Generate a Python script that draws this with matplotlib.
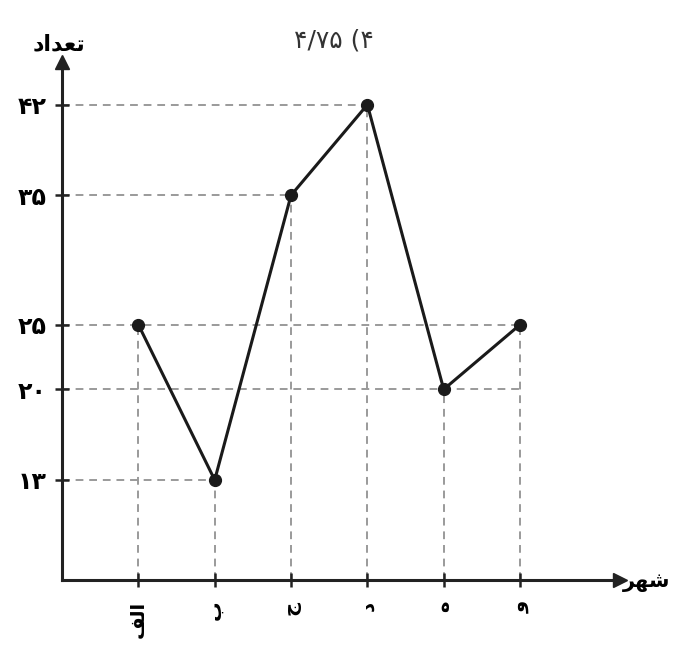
import matplotlib.pyplot as plt

# data: cities (alef..vav) and counts
# Persian text is written in visual order with presentation forms,
# since matplotlib does no arabic shaping
cities = ['\uFED2\uFEDF\uFE8D', '\uFE8F', '\uFE9D', '\uFEA9', '\uFEE9', '\uFEED']
counts = [25, 13, 35, 42, 20, 25]
yticks = [13, 20, 25, 35, 42]
ytick_labels = ['۱۳', '۲۰', '۲۵', '۳۵', '۴۲']
# how far right each horizontal guide goes (index of city)
hline_end = [1, 5, 5, 2, 3]

title = '۴/۷۵ (۴'
ylabel = '\uFEA9\uFE8D\uFEAA\uFECC\uFE97'   # tedad
xlabel = '\uFEAE\uFEEC\uFEB7'               # shahr

xs = list(range(1, len(cities) + 1))

fig = plt.figure(figsize=(6.75, 6.47), dpi=100)
ax = fig.add_axes([0.0919, 0.1036, 0.8267, 0.8006])
ax.set_xlim(0, 7.31)
ax.set_ylim(5.27, 45.3)

grey = '#9a9a9a'
for y, e in zip(yticks, hline_end):
    ax.plot([0, xs[e]], [y, y], color=grey, lw=1.4, ls=(0, (4, 3)), zorder=1)
for x, y in zip(xs, counts):
    ax.plot([x, x], [5.27, y], color=grey, lw=1.4, ls=(0, (4, 3)), zorder=1)

ax.plot(xs, counts, color='#1a1a1a', lw=2.2, marker='o', ms=8.5, zorder=3)

for s in ['top', 'right']:
    ax.spines[s].set_visible(False)
for s in ['left', 'bottom']:
    ax.spines[s].set_linewidth(2.2)
    ax.spines[s].set_color('#222222')

# arrow heads
ax.plot(1, 0, '>', color='#222222', ms=10, transform=ax.transAxes, clip_on=False)
ax.plot(0, 1, '^', color='#222222', ms=10, transform=ax.transAxes, clip_on=False)

ax.set_xticks(xs)
ax.set_xticklabels(cities, rotation=90, fontsize=14, fontweight='bold')
ax.set_yticks(yticks)
ax.set_yticklabels(ytick_labels, fontsize=17, fontweight='bold')
ax.tick_params(direction='inout', length=10, width=1.8, color='#222222', pad=6)
ax.tick_params(axis='x', pad=10)

fig.text(0.495, 0.937, title, ha='center', va='center', fontsize=18, color='#333333')
fig.text(0.088, 0.932, ylabel, ha='center', va='center', fontsize=16, fontweight='bold')
fig.text(0.993, 0.1, xlabel, ha='right', va='center', fontsize=15, fontweight='bold')

fig.savefig('out.png', dpi=100)
